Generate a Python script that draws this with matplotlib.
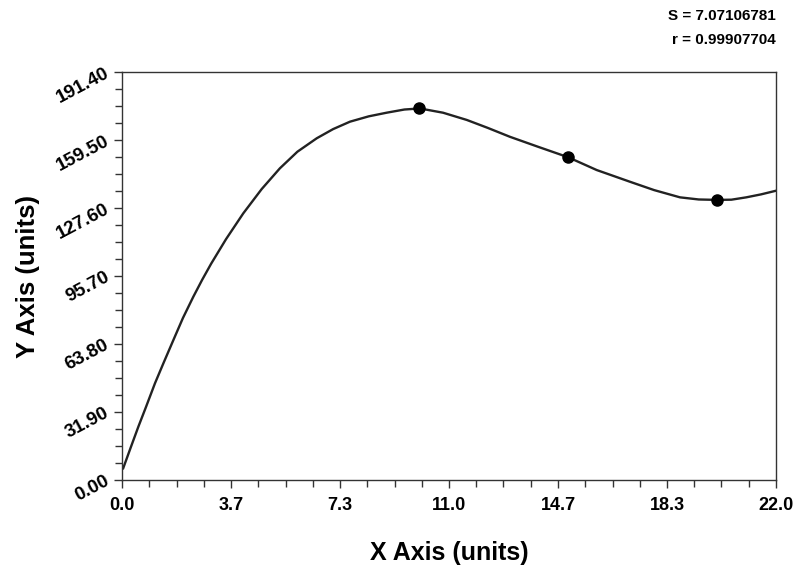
import matplotlib
matplotlib.use("Agg")
import matplotlib.pyplot as plt
import numpy as np
from matplotlib.ticker import AutoMinorLocator

# data points (markers)
pts_x = [10.0, 15.0, 20.0]
pts_y = [174.3, 151.4, 131.4]

# fitted curve
curve_x = [0.04, 0.3, 0.55, 0.8, 1.11, 1.4, 1.73, 2.05, 2.40, 2.7, 3.0, 3.5, 4.08, 4.7,
           5.31, 5.9, 6.55, 7.1, 7.67, 8.3, 8.90, 9.5, 10.02, 10.8, 11.6, 12.3, 13.05,
           14.0, 15.01, 15.97, 16.5, 17.09, 17.9, 18.77, 19.4, 20.02, 20.5, 21.0, 21.5, 22.0]
curve_y = [5.5, 15.5, 25.0, 34.0, 45.4, 55.0, 65.7, 76.0, 86.0, 94.0, 101.5, 113.0, 125.1, 136.5,
           146.2, 154.0, 160.3, 164.6, 168.1, 170.6, 172.3, 173.8, 174.3, 172.3, 168.9, 165.2, 161.0,
           156.3, 151.4, 145.4, 142.8, 139.9, 136.0, 132.6, 131.6, 131.4, 131.5, 132.6, 134.0, 135.7]

x_ticks = [0.0, 22/6, 44/6, 11.0, 88/6, 110/6, 22.0]
x_tick_labels = ["0.0", "3.7", "7.3", "11.0", "14.7", "18.3", "22.0"]
y_ticks = [0.0, 31.9, 63.8, 95.7, 127.6, 159.5, 191.4]
y_tick_labels = ["0.00", "31.90", "63.80", "95.70", "127.60", "159.50", "191.40"]

stats_lines = ["S = 7.07106781", "r = 0.99907704"]

plt.rcParams['font.family'] = ['Liberation Sans', 'DejaVu Sans']
plt.rcParams['font.weight'] = 'bold'

fig = plt.figure(figsize=(7.98, 5.76), dpi=100)
ax = fig.add_axes([122/798, 1-480/576, 654/798, 408/576])

ax.plot(curve_x, curve_y, color='#222222', lw=1.7, solid_joinstyle='round')
ax.plot(pts_x, pts_y, 'o', color='black', ms=8)

ax.set_xlim(0, 22)
ax.set_ylim(0, 191.4)
ax.set_xticks(x_ticks)
ax.set_xticklabels(x_tick_labels, fontsize=13, fontweight='bold')
ax.set_yticks(y_ticks)
ax.set_yticklabels(y_tick_labels, fontsize=13.5, fontweight='bold', rotation=28,
                   ha='right', va='center', rotation_mode='anchor')
ax.xaxis.set_minor_locator(AutoMinorLocator(4))
ax.yaxis.set_minor_locator(AutoMinorLocator(4))
ax.tick_params(which='both', direction='out', width=1.0, color='#333333')
ax.tick_params(which='major', length=6)
ax.tick_params(which='minor', length=5)
ax.tick_params(axis='x', pad=6)
ax.tick_params(axis='y', pad=4)
for s in ax.spines.values():
    s.set_linewidth(1.0)
    s.set_color('#333333')

ax.set_xlabel("X Axis (units)", fontsize=18, fontweight='bold', labelpad=20)
ax.set_ylabel("Y Axis (units)", fontsize=18.5, fontweight='bold', labelpad=10)

fig.text(776/798, 1-16/576, stats_lines[0], ha='right', va='center', fontsize=11, fontweight='bold')
fig.text(776/798, 1-40/576, stats_lines[1], ha='right', va='center', fontsize=11, fontweight='bold')

fig.savefig("out.png", dpi=100)
